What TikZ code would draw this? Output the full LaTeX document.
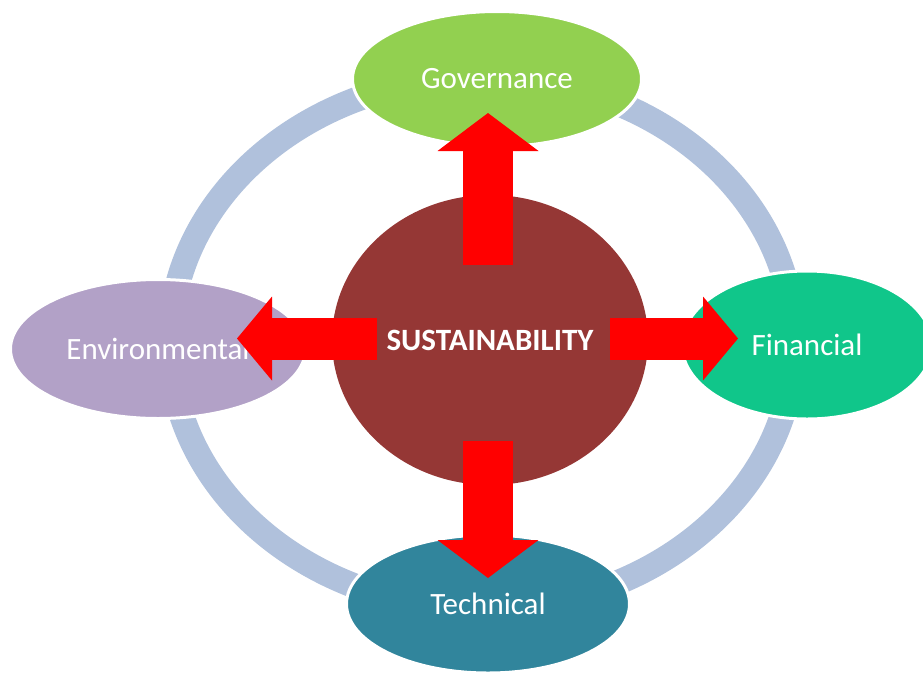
\documentclass[tikz,border=0pt]{standalone}
\usepackage{fontspec}
\setmainfont{Carlito}
\usepackage{xcolor}
\usepackage{tikz}
\usetikzlibrary{shapes.geometric,arrows.meta}
\definecolor{ringblue}{HTML}{B0C1DC}
\definecolor{govgreen}{HTML}{92D050}
\definecolor{envlilac}{HTML}{B2A1C7}
\definecolor{fingreen}{HTML}{10C68A}
\definecolor{techteal}{HTML}{31859C}
\definecolor{susbrown}{HTML}{953735}
\newcommand\pfont{\fontsize{31}{37}\selectfont}

\tikzset{
  pillar/.style={ellipse, draw=white, line width=3pt, text=white,
    inner sep=0pt, font=\pfont},
  vbolt/.style={draw=red, line width=50pt,
    -{Triangle[length=38pt,width=101pt,line width=0pt]}},
  hbolt/.style={draw=red, line width=42pt,
    -{Triangle[length=35pt,width=84pt,line width=0pt]}}
}

\begin{document}
\begin{tikzpicture}[x=1pt,y=-1pt]
      \useasboundingbox (0,0) rectangle (923,675);

      \coordinate (Ring) at (482, 343);
      \coordinate (Gov) at (497, 79);
      \coordinate (Env) at (158, 349);
      \coordinate (Fin) at (807, 345);
      \coordinate (Tec) at (488, 604);
      \coordinate (Sus) at (490, 340);

      \coordinate (Up) at (488, 265);
      \coordinate (Upt) at (488, 113);
      \coordinate (Dn) at (488, 441);
      \coordinate (Dnt) at (488, 578);
      \coordinate (Lf) at (377, 338.5);
      \coordinate (Lft) at (237, 338.5);
      \coordinate (Rt) at (610, 338.5);
      \coordinate (Rtt) at (738, 338.5);

      \draw[ringblue, line width=25pt] (Ring) ellipse [x radius=312pt, y radius=266pt];

      \node[pillar, fill=govgreen, minimum width=289pt, minimum height=135pt] (gov) at (Gov) {Governance};
      \node[pillar, fill=envlilac, minimum width=295pt, minimum height=139pt] (env) at (Env) {Environmental};
      \node[pillar, fill=fingreen, minimum width=250pt, minimum height=148pt] (fin) at (Fin) {Financial};
      \node[pillar, fill=techteal, minimum width=283pt, minimum height=138pt] (tec) at (Tec) {Technical};

      \node[ellipse, fill=susbrown, text=white, inner sep=0pt,
        minimum width=316pt, minimum height=290pt,
        font=\pfont\bfseries] (sus) at (Sus) {SUSTAINABILITY};

      \draw[vbolt] (Up) -- (Upt);
      \draw[vbolt] (Dn) -- (Dnt);
      \draw[hbolt] (Lf) -- (Lft);
      \draw[hbolt] (Rt) -- (Rtt);
    \end{tikzpicture}
\end{document}
